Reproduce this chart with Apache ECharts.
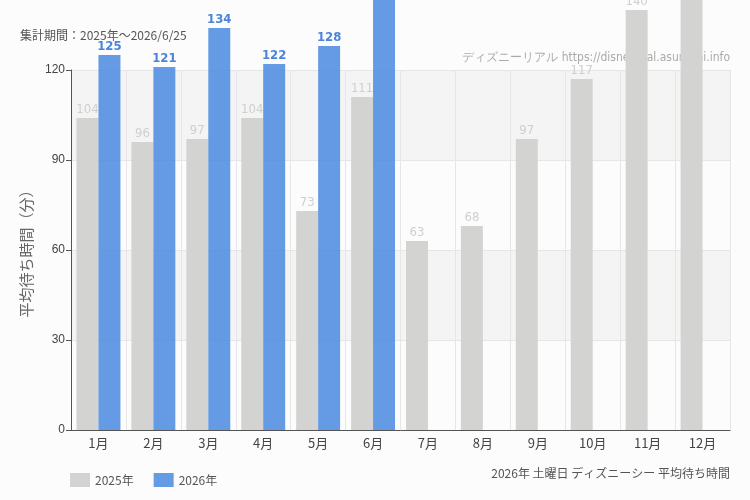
<!DOCTYPE html>
<html>
<head>
<meta charset="utf-8">
<script src="https://cdn.jsdelivr.net/npm/echarts@6/dist/echarts.min.js"></script>
<style>
  html, body { margin: 0; padding: 0; background: #fbfcfb; }
  #chart { width: 750px; height: 500px; }
</style>
</head>
<body>
<div id="chart"></div>
<script>
const months = ['1月', '2月', '3月', '4月', '5月', '6月', '7月', '8月', '9月', '10月', '11月', '12月']
const wait2025 = [104, 96, 97, 104, 73, 111, 63, 68, 97, 117, 140, 148]
const wait2026 = [125, 121, 134, 122, 128, 146]
const yTicks = [0, 30, 60, 90, 120]

const condensed = '"DejaVu Sans", sans-serif'
const jp = '"Noto Sans CJK JP", sans-serif'

const chart = echarts.init(document.getElementById('chart'))

chart.setOption({
  backgroundColor: '#fbfcfb',
  animation: false,
  grid: { left: 71, right: 20, top: 70, bottom: 70 },
  graphic: [
    {
      type: 'text', left: 20, top: 29,
      style: { text: '集計期間：2025年～2026/6/25', fill: '#555', font: '12px ' + jp }
    },
    {
      type: 'text', right: 20, top: 52,
      style: { text: 'ディズニーリアル https://disneyreal.asumirai.info', fill: '#aaa', font: 'condensed 12px ' + condensed }
    },
    {
      type: 'text', right: 20, top: 467,
      style: { text: '2026年 土曜日 ディズニーシー 平均待ち時間', fill: '#555', font: '12px ' + jp }
    }
  ],
  legend: {
    left: 65, top: 468,
    itemWidth: 20, itemHeight: 14, itemGap: 20,
    icon: 'rect',
    textStyle: { color: '#555', fontSize: 12, fontFamily: jp },
    data: ['2025年', '2026年']
  },
  xAxis: {
    type: 'category',
    data: months,
    axisLine: { lineStyle: { color: '#555' } },
    axisTick: { alignWithLabel: true, lineStyle: { color: '#555' } },
    axisLabel: { color: '#444', fontSize: 13, fontFamily: jp, margin: 7 },
    splitLine: { show: true, interval: 0, lineStyle: { color: '#e6e6e6' } }
  },
  yAxis: {
    type: 'value',
    min: yTicks[0],
    max: yTicks[yTicks.length - 1],
    interval: 30,
    name: '平均待ち時間（分）',
    nameLocation: 'middle',
    nameGap: 36,
    nameTextStyle: { color: '#666', fontSize: 15, fontFamily: jp },
    axisLine: { show: true, lineStyle: { color: '#555' } },
    axisTick: { show: true, lineStyle: { color: '#555' } },
    axisLabel: { color: '#444', fontSize: 12, margin: 6 },
    splitLine: { lineStyle: { color: '#e6e6e6' } },
    splitArea: { show: true, areaStyle: { color: ['rgba(0,0,0,0)', 'rgba(0,0,0,0.03)'] } }
  },
  series: [
    {
      name: '2025年',
      type: 'bar',
      data: wait2025,
      clip: false,
      barGap: '0%',
      barCategoryGap: '20%',
      itemStyle: { color: '#d3d4d2' },
      label: {
        show: true, position: 'top', distance: 2,
        color: '#cfcfcf', fontSize: 13, fontStyle: 'condensed', fontFamily: condensed
      }
    },
    {
      name: '2026年',
      type: 'bar',
      data: wait2026,
      clip: false,
      itemStyle: { color: '#4a8ae0', opacity: 0.85 },
      label: {
        show: true, position: 'top', distance: 2,
        color: '#2a6fd6', fontSize: 13, fontStyle: 'condensed', fontWeight: 'bold', fontFamily: condensed
      }
    }
  ]
})
</script>
</body>
</html>
